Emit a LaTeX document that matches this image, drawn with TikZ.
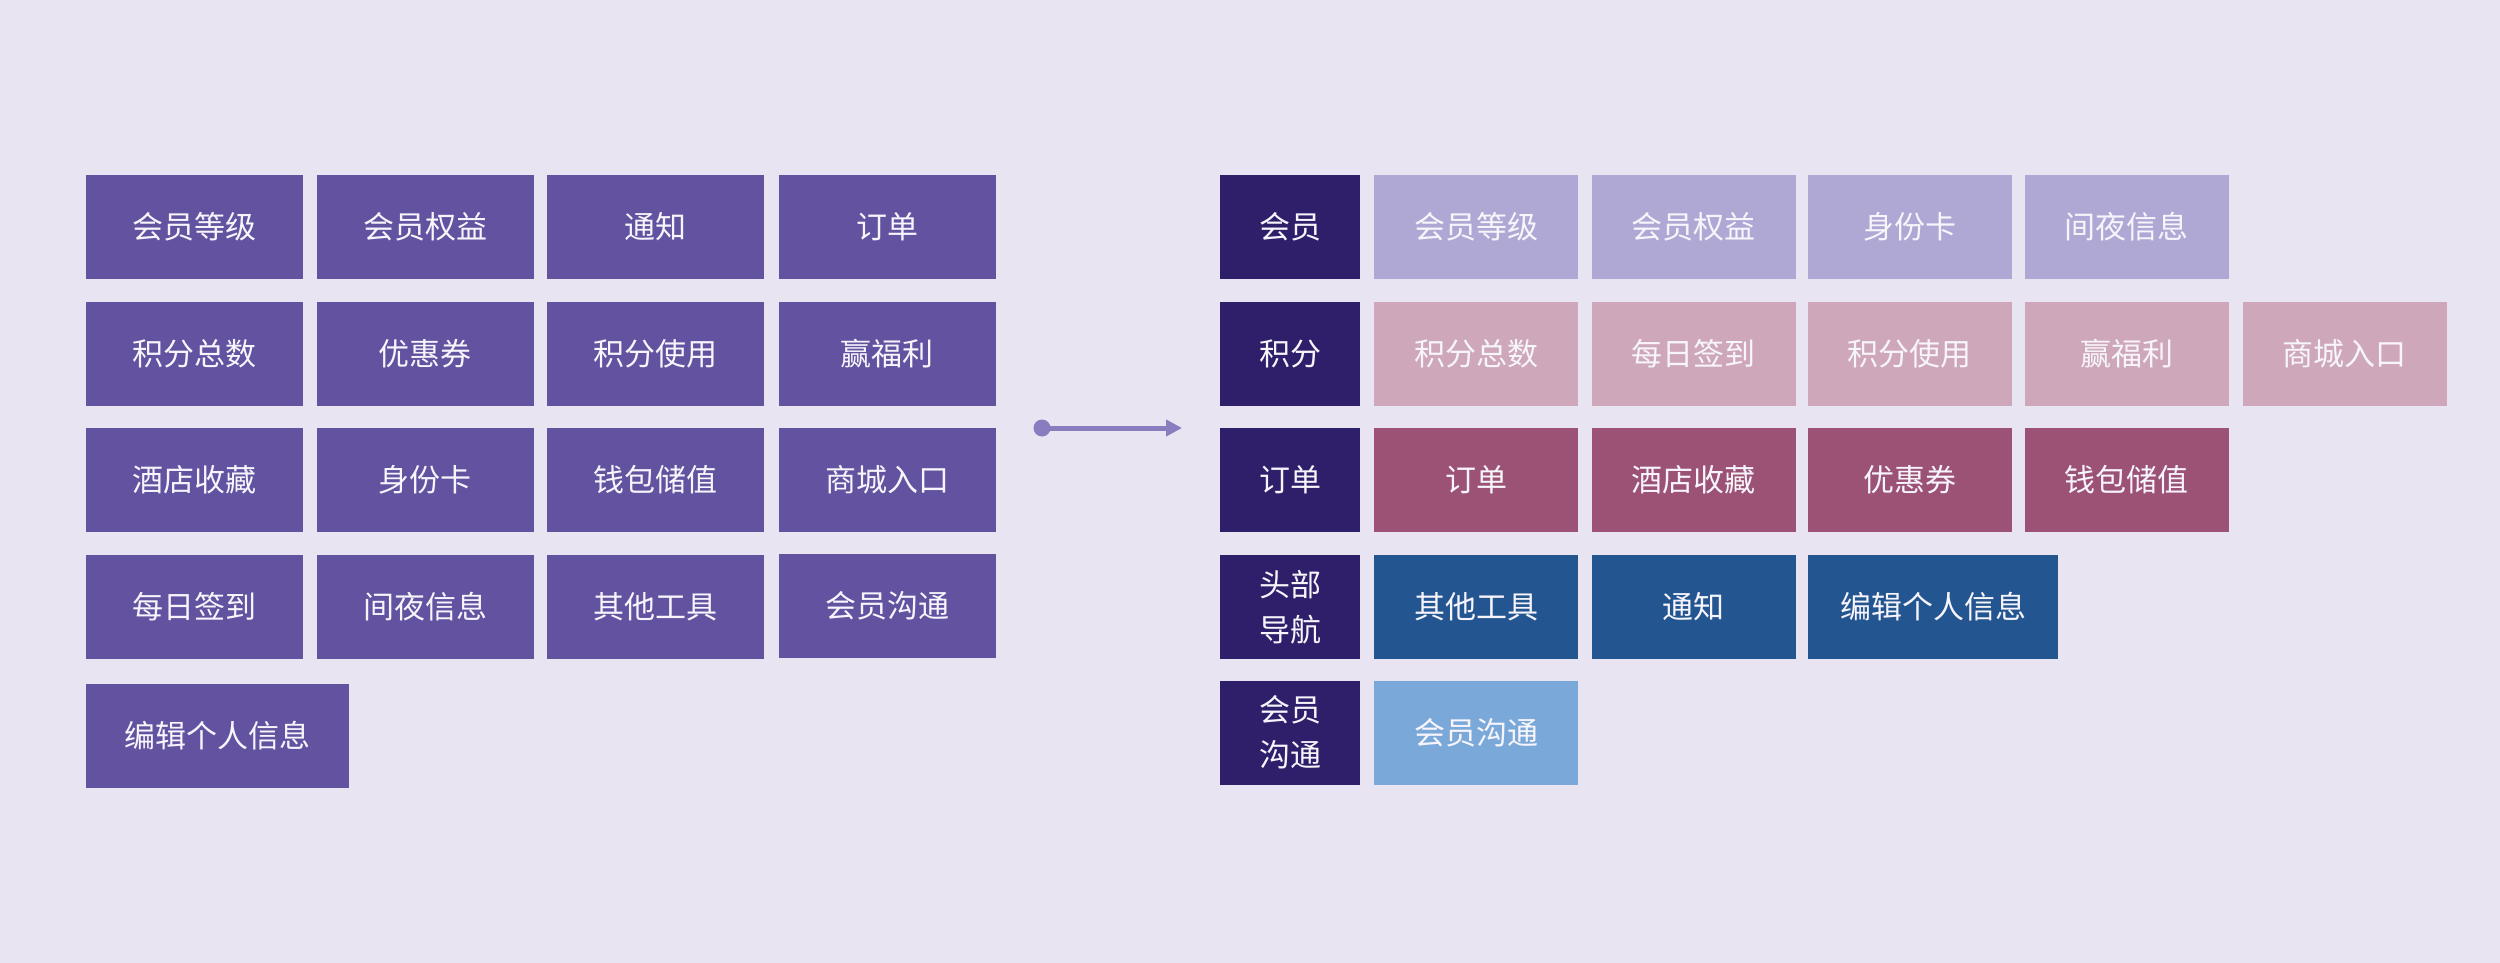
\documentclass[tikz,border=0pt]{standalone}
\usepackage{fontspec}
\newfontfamily\cjk{Noto Sans CJK SC}
\usetikzlibrary{arrows.meta}
\definecolor{bgc}{HTML}{E8E4F2}
\definecolor{leftc}{HTML}{6252A0}
\definecolor{labc}{HTML}{2F1F6B}
\definecolor{r1c}{HTML}{B0A8D4}
\definecolor{r2c}{HTML}{CEA8BA}
\definecolor{r3c}{HTML}{9B5275}
\definecolor{r4c}{HTML}{235590}
\definecolor{r5c}{HTML}{7AA8D8}
\definecolor{arrc}{HTML}{8A7DBF}
\definecolor{txtc}{HTML}{F7F5FB}
\tikzset{
  box/.style={draw=none, inner sep=0pt, text=txtc, align=center,
    font=\cjk\fontsize{31}{45}\selectfont},
  lbox/.style={box, fill=leftc, minimum width=217pt, minimum height=104pt},
  labbox/.style={box, fill=labc, minimum width=140pt, minimum height=104pt},
  rbox/.style={box, minimum width=204pt, minimum height=104pt},
  conn/.style={draw=arrc, line width=5pt, -{Triangle[length=16pt,width=16pt]}},
  dotnode/.style={circle, fill=arrc, inner sep=0pt, minimum size=17pt}
}
\begin{document}
\begin{tikzpicture}[x=1pt,y=-1pt]
\useasboundingbox[fill=bgc] (0,0) rectangle (2500,963);
% left grid
\node[lbox] (l11) at (194.5,227) {会员等级};
\node[lbox] (l12) at (425,227) {会员权益};
\node[lbox] (l13) at (655.5,227) {通知};
\node[lbox] (l14) at (887,227) {订单};
\node[lbox] (l21) at (194.5,353.5) {积分总数};
\node[lbox] (l22) at (425,353.5) {优惠券};
\node[lbox] (l23) at (655.5,353.5) {积分使用};
\node[lbox] (l24) at (887,353.5) {赢福利};
\node[lbox] (l31) at (194.5,479.5) {酒店收藏};
\node[lbox] (l32) at (425,479.5) {身份卡};
\node[lbox] (l33) at (655.5,479.5) {钱包储值};
\node[lbox] (l34) at (887,479.5) {商城入口};
\node[lbox] (l41) at (194.5,607) {每日签到};
\node[lbox] (l42) at (425,607) {间夜信息};
\node[lbox] (l43) at (655.5,607) {其他工具};
\node[lbox] (l44) at (887,605.5) {会员沟通};
\node[lbox, minimum width=263pt] (l51) at (217.5,735.5) {编辑个人信息};
% arrow
\node[dotnode] (dot) at (1042,428) {};
\coordinate (aend) at (1182,428);
\draw[conn] (dot.center) -- (aend);
% right labels
\node[labbox] (g1) at (1290,227) {会员};
\node[labbox] (g2) at (1290,353.5) {积分};
\node[labbox] (g3) at (1290,479.5) {订单};
\node[labbox] (g4) at (1290,607) {头部\\导航};
\node[labbox] (g5) at (1290,732.5) {会员\\沟通};
% row 1
\node[rbox, fill=r1c] (a1) at (1476,227) {会员等级};
\node[rbox, fill=r1c] (b1) at (1693.5,227) {会员权益};
\node[rbox, fill=r1c] (c1) at (1909.5,227) {身份卡};
\node[rbox, fill=r1c] (d1) at (2126.5,227) {间夜信息};
% row 2
\node[rbox, fill=r2c] (a2) at (1476,353.5) {积分总数};
\node[rbox, fill=r2c] (b2) at (1693.5,353.5) {每日签到};
\node[rbox, fill=r2c] (c2) at (1909.5,353.5) {积分使用};
\node[rbox, fill=r2c] (d2) at (2126.5,353.5) {赢福利};
\node[rbox, fill=r2c] (e2) at (2344.5,353.5) {商城入口};
% row 3
\node[rbox, fill=r3c] (a3) at (1476,479.5) {订单};
\node[rbox, fill=r3c] (b3) at (1693.5,479.5) {酒店收藏};
\node[rbox, fill=r3c] (c3) at (1909.5,479.5) {优惠券};
\node[rbox, fill=r3c] (d3) at (2126.5,479.5) {钱包储值};
% row 4
\node[rbox, fill=r4c] (a4) at (1476,607) {其他工具};
\node[rbox, fill=r4c] (b4) at (1693.5,607) {通知};
\node[rbox, fill=r4c, minimum width=250pt] (c4) at (1933,607) {编辑个人信息};
% row 5
\node[rbox, fill=r5c] (a5) at (1476,732.5) {会员沟通};
\end{tikzpicture}
\end{document}
